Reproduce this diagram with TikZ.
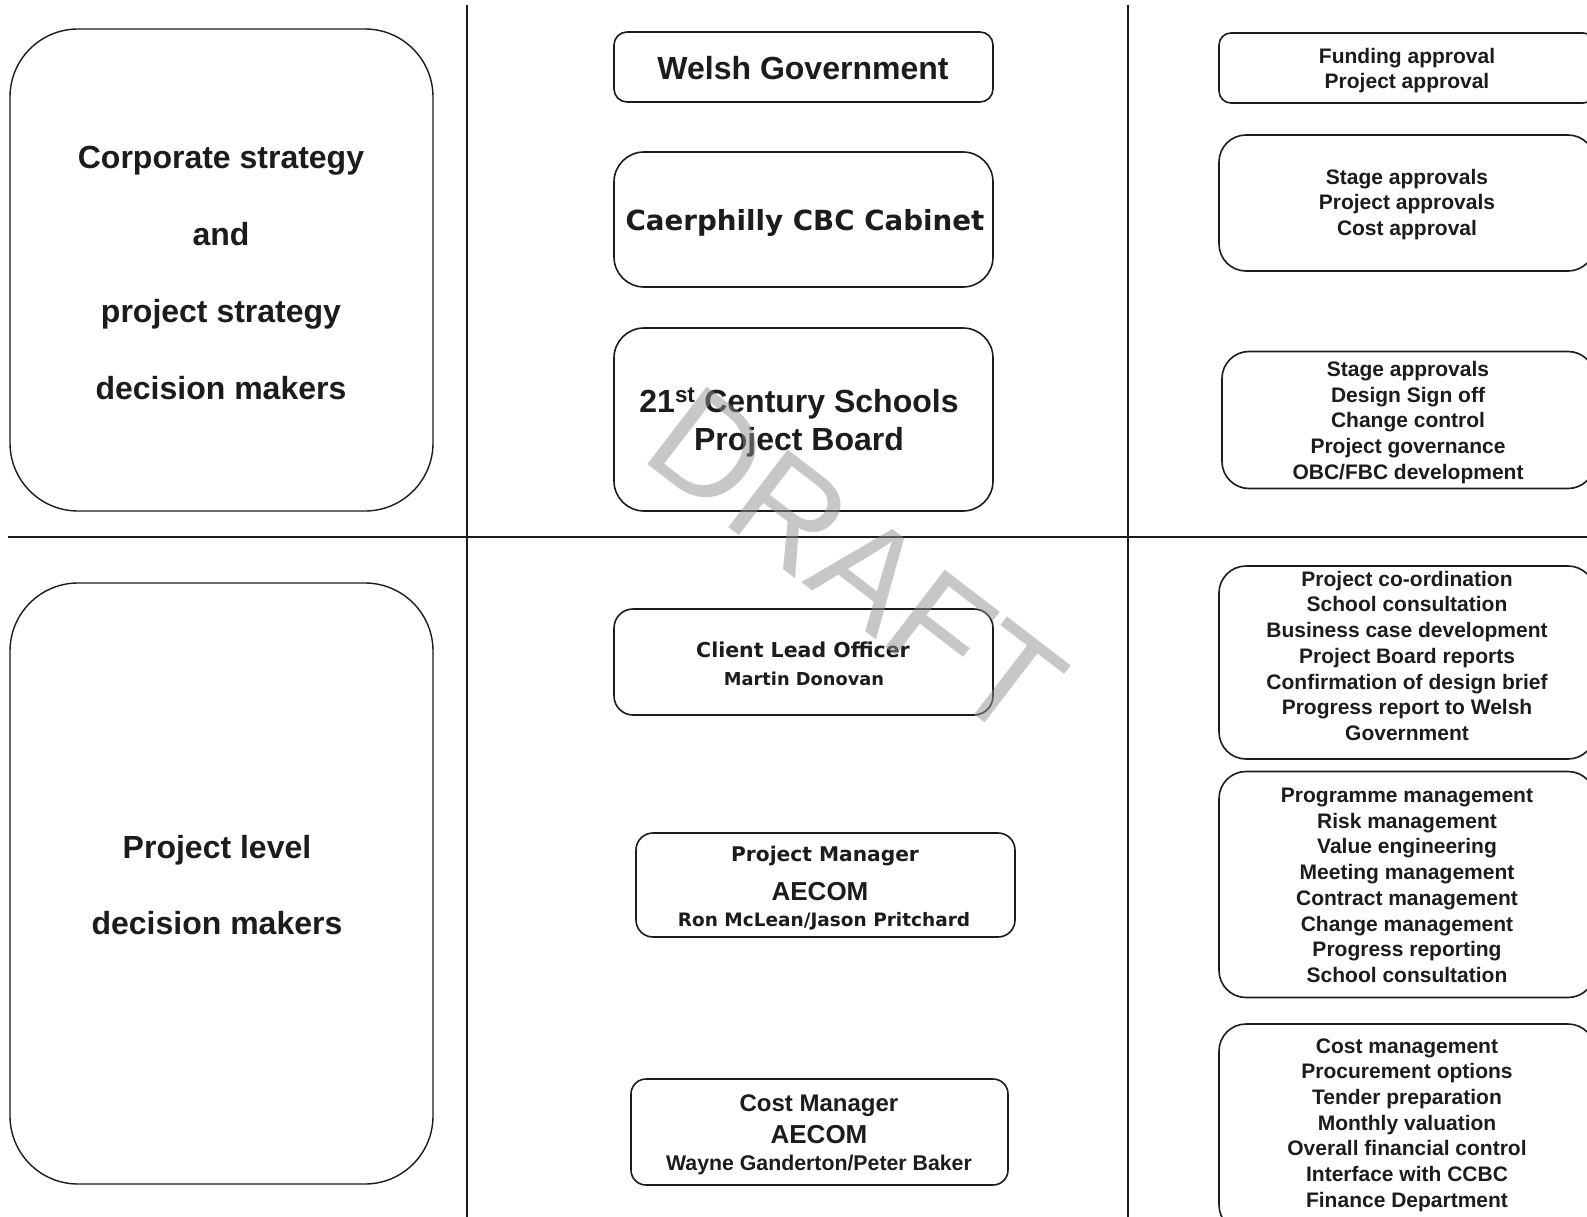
\documentclass[tikz,border=0pt]{standalone}
\usepackage{fontspec}
\setmainfont{Liberation Sans}
\newfontfamily\dvfont{DejaVu Sans}
\newcommand\fsz[2]{\fontsize{#1}{#2}\selectfont\bfseries}
\newcommand\dvsz[1]{\dvfont\fontsize{#1}{#1}\selectfont\bfseries}
\definecolor{ink}{RGB}{28,28,28}
\definecolor{wmark}{RGB}{145,145,145}
\begin{document}
\begin{tikzpicture}[x=1pt,y=-1pt,
  rbox/.style={draw=ink, line width=1.6pt, rounded corners=#1pt, inner sep=0pt},
  sidebox/.style={draw=ink, line width=1.4pt, rounded corners=68pt, inner sep=0pt},
  divider/.style={draw=ink, line width=1.8pt},
  txt/.style={inner sep=0pt, anchor=base, align=center, text=ink},
  wm/.style={inner sep=0pt, text=wmark, text opacity=0.5, rotate=-37.5,
             font=\fontsize{142}{142}\selectfont}]
\useasboundingbox (0,0) rectangle (1587,1217);
\fill[white] (0,0) rectangle (1587,1217);
\clip (0,0) rectangle (1587,1217);

% column and row dividers
\coordinate (v1a) at (467,5);   \coordinate (v1b) at (467,1217);
\coordinate (v2a) at (1128,5);  \coordinate (v2b) at (1128,1217);
\coordinate (ha) at (8,537);    \coordinate (hb) at (1587,537);
\draw[divider] (v1a) -- (v1b);
\draw[divider] (v2a) -- (v2b);
\draw[divider] (ha) -- (hb);

% left column: decision levels (multi-line texts are placed by their last baseline)
\node[sidebox, minimum width=423pt, minimum height=482pt] (l1) at (221.5,270) {};
\node[sidebox, minimum width=423pt, minimum height=601pt] (l2) at (221.5,883.5) {};
\node[txt, font=\fsz{32}{77}] (l1t) at (221,399.7)
  {Corporate strategy\\and\\project strategy\\decision makers};
\node[txt, font=\fsz{32}{76}] (l2t) at (217,934.5)
  {Project level\\decision makers};

% middle column: bodies and roles
\node[rbox=13, minimum width=379pt, minimum height=70pt]  (m1) at (803.5,67) {};
\node[rbox=30, minimum width=379pt, minimum height=135pt] (m2) at (803.5,219.5) {};
\node[rbox=30, minimum width=379pt, minimum height=183pt] (m3) at (803.5,419.5) {};
\node[rbox=19, minimum width=379pt, minimum height=106pt] (m4) at (803.5,662) {};
\node[rbox=17, minimum width=379pt, minimum height=104pt] (m5) at (825.5,885) {};
\node[rbox=15, minimum width=377pt, minimum height=106pt] (m6) at (819.5,1132) {};

\node[txt, font=\fsz{32}{32}] (m1t) at (803,79.5) {Welsh Government};
\node[txt, font=\dvsz{27.7}] (m2t) at (805,230.5) {Caerphilly CBC Cabinet};
\node[txt, font=\fsz{32}{38.7}] (m3t) at (799,450.7)
  {21\textsuperscript{st} Century Schools\\Project Board};
\node[txt, font=\dvsz{20.5}] (m4a) at (803,657.7) {Client Lead Officer};
\node[txt, font=\dvsz{17.8}] (m4b) at (804,685) {Martin Donovan};
\node[txt, font=\dvsz{20.2}] (m5a) at (825,861.3) {Project Manager};
\node[txt, font=\fsz{26}{26}] (m5b) at (820,900.7) {AECOM};
\node[txt, font=\dvsz{18.5}] (m5c) at (824,926.3) {Ron McLean/Jason Pritchard};
\node[txt, font=\fsz{24}{24}] (m6a) at (819,1111.7) {Cost Manager};
\node[txt, font=\fsz{26}{26}] (m6b) at (819,1143.3) {AECOM};
\node[txt, font=\fsz{21.3}{21.3}] (m6c) at (819,1170) {Wayne Ganderton/Peter Baker};

% right column: responsibilities
\node[rbox=12, minimum width=376pt, minimum height=70pt]  (r1) at (1407,68) {};
\node[rbox=27, minimum width=376pt, minimum height=136pt] (r2) at (1407,203) {};
\node[rbox=27, minimum width=373pt, minimum height=137pt] (r3) at (1408.5,420) {};
\node[rbox=27, minimum width=376pt, minimum height=193pt] (r4) at (1407,662.5) {};
\node[rbox=27, minimum width=376pt, minimum height=226pt] (r5) at (1407,884.5) {};
\node[rbox=27, minimum width=376pt, minimum height=208pt] (r6) at (1407,1128) {};

\node[txt, font=\fsz{21}{25}] (r1t) at (1407,88.3)
  {Funding approval\\Project approval};
\node[txt, font=\fsz{21}{25.8}] (r2t) at (1407,235.6)
  {Stage approvals\\Project approvals\\Cost approval};
\node[txt, font=\fsz{21}{25.7}] (r3t) at (1408,479.3)
  {Stage approvals\\Design Sign off\\Change control\\Project governance\\OBC/FBC development};
\node[txt, font=\fsz{21}{25.7}] (r4t) at (1407,740.4)
  {Project co-ordination\\School consultation\\Business case development\\Project Board reports\\Confirmation of design brief\\Progress report to Welsh\\Government};
\node[txt, font=\fsz{21}{25.7}] (r5t) at (1407,982.4)
  {Programme management\\Risk management\\Value engineering\\Meeting management\\Contract management\\Change management\\Progress reporting\\School consultation};
\node[txt, font=\fsz{21}{25.7}] (r6t) at (1407,1207.2)
  {Cost management\\Procurement options\\Tender preparation\\Monthly valuation\\Overall financial control\\Interface with CCBC\\Finance Department};

% watermark
\node[wm] (draft) at (856,563) {DRAFT};
\end{tikzpicture}
\end{document}
